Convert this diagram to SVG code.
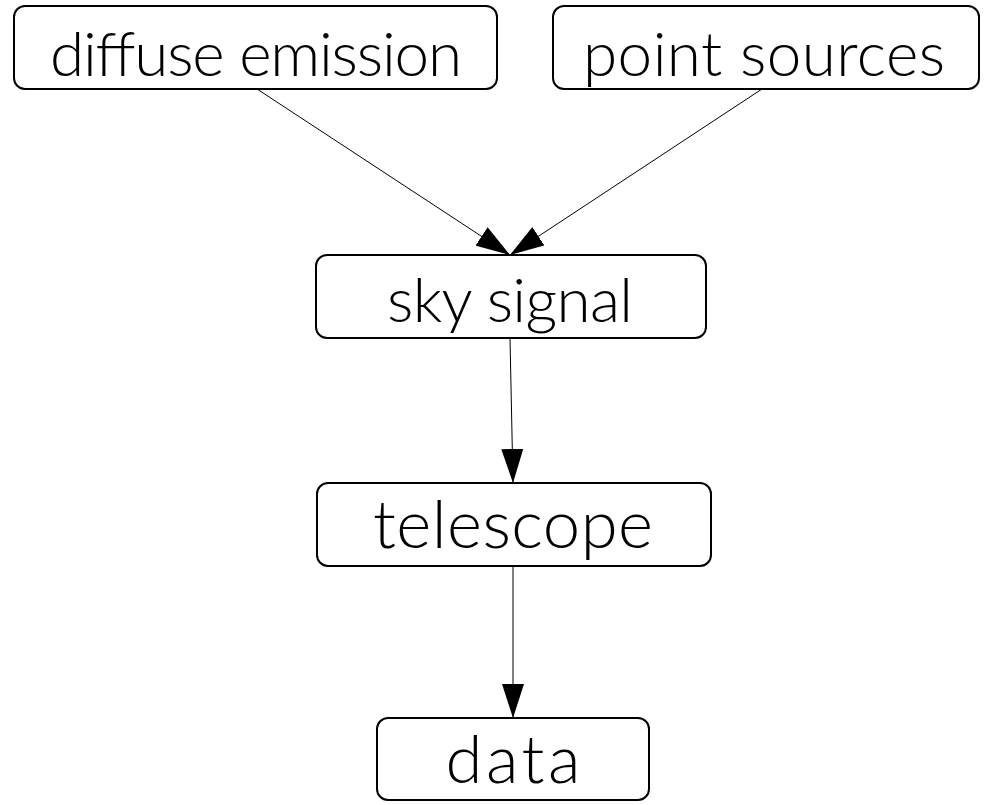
<svg xmlns="http://www.w3.org/2000/svg" width="993" height="805" viewBox="0 0 993 805">
<style>
.box{fill:#fff;stroke:#000;stroke-width:2}
.lbl{font-family:Lato,"Open Sans","Liberation Sans",sans-serif;font-weight:300;font-size:62px;fill:#000;text-anchor:middle}
.big{font-size:67px}
.edge{stroke:#000;stroke-width:1;fill:none}
</style>
<defs>
<marker id="arr" viewBox="0 0 34 22" refX="34" refY="11" markerWidth="34" markerHeight="22" markerUnits="userSpaceOnUse" orient="auto">
<path d="M0,0 L34,11 L0,22 Z" fill="#000"/>
</marker>
</defs>
<rect width="993" height="805" fill="#fff"/>
<g id="edges">
<line class="edge" x1="257" y1="89" x2="510" y2="255" marker-end="url(#arr)"/>
<line class="edge" x1="762" y1="89" x2="510" y2="255" marker-end="url(#arr)"/>
<line class="edge" x1="510" y1="338" x2="513" y2="483" marker-end="url(#arr)"/>
<line class="edge" x1="513" y1="566" x2="513" y2="718" marker-end="url(#arr)"/>
</g>
<g id="diffuse">
<rect class="box" x="14" y="6" width="483" height="83" rx="11"/>
<text class="lbl" x="256" y="76" textLength="412" lengthAdjust="spacing">diffuse emission</text>
</g>
<g id="point">
<rect class="box" x="553" y="6" width="426" height="83" rx="11"/>
<text class="lbl" x="764" y="76" textLength="362" lengthAdjust="spacing">point sources</text>
</g>
<g id="sky">
<rect class="box" x="316" y="255" width="390" height="83" rx="11"/>
<text class="lbl" x="510" y="322" textLength="246" lengthAdjust="spacing">sky signal</text>
</g>
<g id="telescope">
<rect class="box" x="317" y="483" width="394" height="83" rx="11"/>
<text class="lbl big" x="513" y="548" textLength="280" lengthAdjust="spacing">telescope</text>
</g>
<g id="data">
<rect class="box" x="377" y="718" width="272" height="82" rx="11"/>
<text class="lbl big" x="513" y="783" textLength="135" lengthAdjust="spacing">data</text>
</g>
</svg>
